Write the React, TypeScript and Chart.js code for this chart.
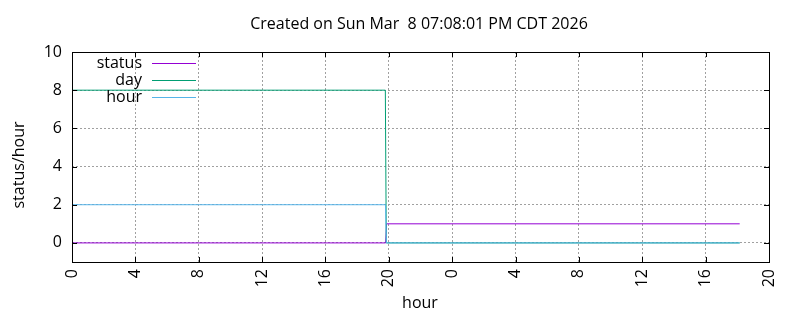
import React, { useEffect, useRef } from "react";
import { Chart, registerables } from "chart.js";

Chart.register(...registerables);

const titleText = "Created on Sun Mar  8 07:08:01 PM CDT 2026";
const xTitle = "hour";
const yTitle = "status/hour";

// elapsed hours since start of plot
const statusHours = [0, 19.8, 19.86, 42.15];
const statusValues = [0, 0, 1, 1];
const dayHours = [0, 19.78, 19.84, 42.15];
const dayValues = [8, 8, 0, 0];
const hourHours = [0, 19.79, 19.85, 42.15];
const hourValues = [2, 2, 0, 0];

const seriesNames = ["status", "day", "hour"];
const seriesColors = ["#9400d3", "#009e73", "#56b4e9"];

const xMin = 0;
const xMax = 44;
const xStep = 4;
const yMin = -1;
const yMax = 10;
const yStep = 2;

const FONT = "'Open Sans', 'Noto Sans', sans-serif";

const toPoints = (xs: number[], ys: number[]) => xs.map((x, i) => ({ x, y: ys[i] }));

const framePlugin = {
  id: "gnuplotFrame",
  afterDraw(chart: any) {
    const ctx = chart.ctx as CanvasRenderingContext2D;
    const { left, right, top, bottom } = chart.chartArea;
    const xs = chart.scales.x;
    const ys = chart.scales.y;
    ctx.save();
    // border
    ctx.strokeStyle = "#000";
    ctx.lineWidth = 1;
    ctx.strokeRect(Math.round(left) + 0.5, Math.round(top) + 0.5, Math.round(right - left), Math.round(bottom - top));
    // inward ticks
    const tl = 5;
    ctx.beginPath();
    xs.ticks.forEach((t: any) => {
      const px = Math.round(xs.getPixelForValue(t.value)) + 0.5;
      ctx.moveTo(px, bottom);
      ctx.lineTo(px, bottom - tl);
      ctx.moveTo(px, top);
      ctx.lineTo(px, top + tl);
    });
    ys.ticks.forEach((t: any) => {
      const py = Math.round(ys.getPixelForValue(t.value)) + 0.5;
      ctx.moveTo(left, py);
      ctx.lineTo(left + tl, py);
      ctx.moveTo(right, py);
      ctx.lineTo(right - tl, py);
    });
    ctx.stroke();

    // texts
    ctx.fillStyle = "#000";
    ctx.font = `16px ${FONT}`;
    ctx.textAlign = "center";
    ctx.textBaseline = "middle";
    ctx.fillText(titleText, 419, 24);
    ctx.fillText(xTitle, 420, 303);
    ctx.save();
    ctx.translate(19, 165);
    ctx.rotate(-Math.PI / 2);
    ctx.fillText(yTitle, 0, 0);
    ctx.restore();

    // legend
    const ly = [63, 80, 97];
    seriesNames.forEach((name, i) => {
      ctx.textAlign = "right";
      ctx.fillStyle = "#000";
      ctx.fillText(name, 142, ly[i]);
      ctx.strokeStyle = seriesColors[i];
      ctx.beginPath();
      ctx.moveTo(152, ly[i] + 0.5);
      ctx.lineTo(196, ly[i] + 0.5);
      ctx.stroke();
    });
    ctx.restore();
  },
};

export default function App() {
  const ref = useRef<HTMLCanvasElement | null>(null);
  useEffect(() => {
    if (!ref.current) return;
    const mk = (i: number, xs: number[], ys: number[], order: number) => ({
      label: seriesNames[i],
      data: toPoints(xs, ys),
      borderColor: seriesColors[i],
      backgroundColor: seriesColors[i],
      borderWidth: 1,
      pointRadius: 0,
      tension: 0,
      fill: false,
      order,
    });
    const chart = new Chart(ref.current, {
      type: "line",
      data: {
        datasets: [
          mk(0, statusHours, statusValues, 2),
          mk(1, dayHours, dayValues, 1),
          mk(2, hourHours, hourValues, 0),
        ],
      },
      options: {
        animation: false,
        responsive: false,
        maintainAspectRatio: false,
        layout: { padding: { top: 52, right: 31, left: 0, bottom: 0 } },
        plugins: { legend: { display: false }, tooltip: { enabled: false }, title: { display: false } },
        scales: {
          x: {
            type: "linear",
            min: xMin,
            max: xMax,
            afterFit: (s: any) => {
              s.height = 58;
            },
            ticks: {
              stepSize: xStep,
              minRotation: 90,
              maxRotation: 90,
              padding: 7,
              color: "#000",
              font: { family: FONT, size: 16 },
              callback: (v: any) => String(Number(v) % 24),
            },
            grid: { color: "#a0a0a0", drawTicks: false, lineWidth: 1 },
            border: { display: false, dash: [2, 2] },
          },
          y: {
            type: "linear",
            min: yMin,
            max: yMax,
            afterFit: (s: any) => {
              s.width = 72;
            },
            afterBuildTicks: (s: any) => {
              s.ticks = s.ticks.filter((t: any) => t.value >= 0);
            },
            ticks: {
              stepSize: yStep,
              padding: 10,
              color: "#000",
              font: { family: FONT, size: 16 },
            },
            grid: { color: "#a0a0a0", drawTicks: false, lineWidth: 1 },
            border: { display: false, dash: [2, 2] },
          },
        },
      } as any,
      plugins: [framePlugin],
    });
    return () => chart.destroy();
  }, []);
  return (
    <div style={{ position: "absolute", left: 0, top: 0, width: 800, height: 320, background: "#fff" }}>
      <canvas ref={ref} width={800} height={320} />
    </div>
  );
}
